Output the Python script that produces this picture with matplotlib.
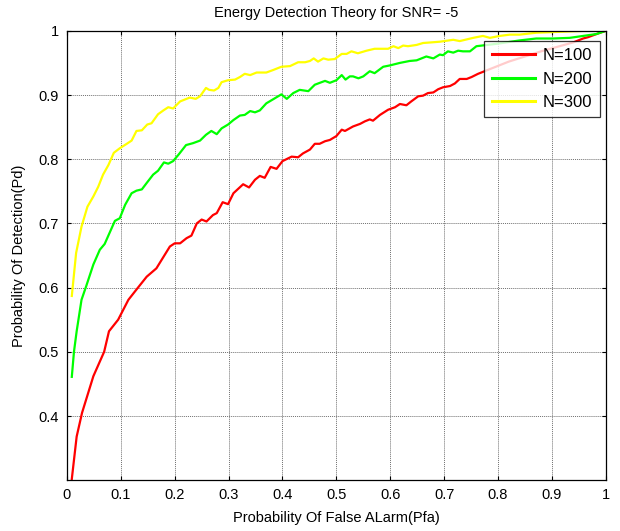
"""
Energy detection ROC curves (Pd vs Pfa) for SNR = -5 dB
"""
import matplotlib
matplotlib.use("Agg")
import matplotlib.pyplot as plt

# ── Data ──────────────────────────────────────────────────────────────────────
pfa_100 = [0.009, 0.018, 0.028, 0.049, 0.069, 0.078, 0.095, 0.114, 0.129, 0.148,
           0.166, 0.191, 0.200, 0.210, 0.222, 0.231, 0.241, 0.250, 0.259, 0.271,
           0.278, 0.289, 0.299, 0.309, 0.327, 0.338, 0.349, 0.358, 0.367, 0.378,
           0.389, 0.400, 0.417, 0.429, 0.438, 0.451, 0.460, 0.469, 0.479, 0.488,
           0.500, 0.510, 0.516, 0.531, 0.544, 0.553, 0.562, 0.568, 0.581, 0.596,
           0.609, 0.618, 0.630, 0.639, 0.652, 0.661, 0.670, 0.680, 0.689, 0.698,
           0.711, 0.720, 0.729, 0.742, 0.751, 0.763, 0.790, 0.820, 0.850, 0.880,
           0.910, 0.940, 0.958, 0.967, 0.983, 1.000]
pd_100 = [0.302, 0.368, 0.405, 0.462, 0.500, 0.532, 0.550, 0.581, 0.597, 0.617,
          0.630, 0.664, 0.669, 0.669, 0.677, 0.681, 0.700, 0.706, 0.703, 0.713,
          0.716, 0.733, 0.730, 0.747, 0.761, 0.756, 0.768, 0.774, 0.771, 0.788,
          0.785, 0.797, 0.804, 0.803, 0.809, 0.815, 0.824, 0.824, 0.828, 0.830,
          0.836, 0.846, 0.844, 0.851, 0.855, 0.859, 0.862, 0.860, 0.869, 0.877,
          0.881, 0.886, 0.884, 0.890, 0.898, 0.899, 0.903, 0.904, 0.909, 0.912,
          0.914, 0.918, 0.925, 0.925, 0.928, 0.933, 0.942, 0.952, 0.960, 0.968,
          0.975, 0.982, 0.988, 0.990, 0.995, 1.000]

pfa_200 = [0.009, 0.013, 0.018, 0.027, 0.036, 0.049, 0.061, 0.070, 0.080, 0.089,
           0.098, 0.108, 0.120, 0.129, 0.139, 0.148, 0.160, 0.169, 0.180, 0.188,
           0.197, 0.208, 0.221, 0.234, 0.247, 0.258, 0.268, 0.278, 0.287, 0.299,
           0.309, 0.321, 0.330, 0.340, 0.349, 0.358, 0.370, 0.386, 0.398, 0.408,
           0.420, 0.432, 0.448, 0.460, 0.479, 0.488, 0.500, 0.510, 0.517, 0.525,
           0.531, 0.541, 0.550, 0.562, 0.571, 0.587, 0.599, 0.618, 0.636, 0.649,
           0.667, 0.680, 0.692, 0.698, 0.707, 0.717, 0.726, 0.735, 0.748, 0.760,
           0.800, 0.840, 0.871, 0.902, 0.933, 0.958, 0.983, 1.000]
pd_200 = [0.461, 0.500, 0.532, 0.581, 0.603, 0.636, 0.659, 0.668, 0.687, 0.704,
          0.708, 0.729, 0.747, 0.751, 0.753, 0.763, 0.776, 0.782, 0.795, 0.793,
          0.797, 0.808, 0.822, 0.825, 0.829, 0.838, 0.844, 0.839, 0.848, 0.854,
          0.861, 0.868, 0.869, 0.875, 0.873, 0.876, 0.887, 0.895, 0.901, 0.894,
          0.903, 0.908, 0.906, 0.916, 0.922, 0.919, 0.923, 0.931, 0.924, 0.929,
          0.929, 0.926, 0.929, 0.937, 0.934, 0.944, 0.946, 0.950, 0.953, 0.954,
          0.960, 0.957, 0.963, 0.962, 0.968, 0.966, 0.969, 0.968, 0.968, 0.976,
          0.980, 0.985, 0.988, 0.988, 0.989, 0.992, 0.995, 1.000]

pfa_300 = [0.009, 0.017, 0.027, 0.038, 0.049, 0.058, 0.067, 0.077, 0.087, 0.098,
           0.111, 0.120, 0.129, 0.139, 0.149, 0.157, 0.169, 0.179, 0.188, 0.197,
           0.210, 0.219, 0.228, 0.239, 0.247, 0.258, 0.264, 0.273, 0.281, 0.287,
           0.299, 0.312, 0.321, 0.330, 0.340, 0.352, 0.370, 0.383, 0.398, 0.414,
           0.429, 0.442, 0.451, 0.458, 0.466, 0.476, 0.485, 0.497, 0.510, 0.519,
           0.528, 0.540, 0.556, 0.571, 0.596, 0.606, 0.615, 0.624, 0.633, 0.649,
           0.661, 0.677, 0.692, 0.717, 0.729, 0.754, 0.772, 0.785, 0.803, 0.822,
           0.840, 0.871, 0.902, 0.933, 0.964, 1.000]
pd_300 = [0.587, 0.654, 0.695, 0.726, 0.742, 0.757, 0.776, 0.791, 0.810, 0.817,
          0.824, 0.829, 0.844, 0.845, 0.854, 0.856, 0.870, 0.876, 0.881, 0.879,
          0.890, 0.893, 0.896, 0.894, 0.898, 0.911, 0.908, 0.907, 0.911, 0.920,
          0.923, 0.924, 0.928, 0.933, 0.931, 0.935, 0.935, 0.939, 0.944, 0.945,
          0.951, 0.951, 0.953, 0.957, 0.952, 0.957, 0.955, 0.956, 0.964, 0.964,
          0.968, 0.965, 0.969, 0.972, 0.972, 0.976, 0.973, 0.977, 0.976, 0.978,
          0.981, 0.982, 0.983, 0.986, 0.984, 0.989, 0.992, 0.989, 0.992, 0.994,
          0.994, 0.997, 0.998, 0.999, 1.000, 1.000]

labels = ["N=100", "N=200", "N=300"]
colors = ["#FF0000", "#00FF00", "#FFFF00"]
xticks = [0, 0.1, 0.2, 0.3, 0.4, 0.5, 0.6, 0.7, 0.8, 0.9, 1]
xticklabels = ["0", "0.1", "0.2", "0.3", "0.4", "0.5", "0.6", "0.7", "0.8", "0.9", "1"]
yticks = [0.4, 0.5, 0.6, 0.7, 0.8, 0.9, 1]
yticklabels = ["0.4", "0.5", "0.6", "0.7", "0.8", "0.9", "1"]

# ── Figure ────────────────────────────────────────────────────────────────────
plt.rcParams["font.family"] = ["Liberation Sans", "DejaVu Sans"]
fig = plt.figure(figsize=(6.2, 5.31), dpi=100)
ax = fig.add_axes([0.108, 0.096, 0.869, 0.846])

series = [(pfa_100, pd_100), (pfa_200, pd_200), (pfa_300, pd_300)]
for (x, y), lab, c in zip(series, labels, colors):
    ax.plot(x, y, color=c, lw=1.6, label=lab)

ax.set_xlim(0, 1)
ax.set_ylim(0.3003, 1)
ax.set_xticks(xticks)
ax.set_xticklabels(xticklabels)
ax.set_yticks(yticks)
ax.set_yticklabels(yticklabels)
ax.tick_params(direction="in", length=3, width=0.8, top=True, right=True,
               labelsize=10.5, pad=6, colors="black")
ax.grid(True, color="#707070", linestyle=(0, (1, 1)), linewidth=0.7)
for s in ax.spines.values():
    s.set_linewidth(0.9)

ax.set_title("Energy Detection Theory for SNR= -5", fontsize=10.5, pad=10)
ax.set_xlabel("Probability Of False ALarm(Pfa)", fontsize=10.5, labelpad=6)
ax.set_ylabel("Probability Of Detection(Pd)", fontsize=10.5, labelpad=9)

leg = ax.legend(loc="upper right", bbox_to_anchor=(0.989, 0.978), fontsize=12,
                frameon=True, fancybox=False, borderaxespad=0, handlelength=2.6,
                borderpad=0.45, labelspacing=0.5, handletextpad=0.45)
leg.get_frame().set_edgecolor("black")
leg.get_frame().set_linewidth(0.9)
for line in leg.get_lines():
    line.set_linewidth(2.2)

plt.savefig("out.png", dpi=100, facecolor="white")
